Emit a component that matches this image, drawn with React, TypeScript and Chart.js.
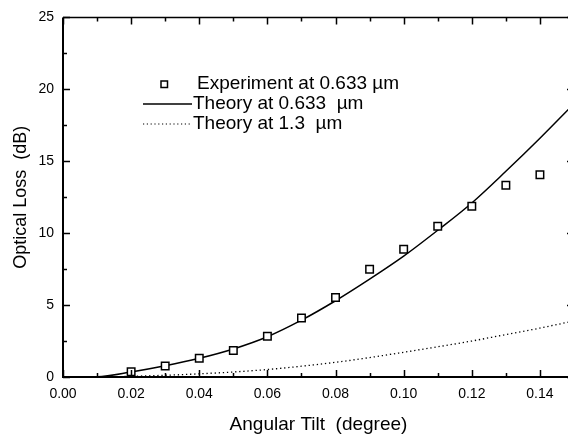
import React, { useEffect, useRef } from "react";
import { Chart, registerables } from "chart.js";

Chart.register(...registerables);

const expX = [0.02, 0.03, 0.04, 0.05, 0.06, 0.07, 0.08, 0.09, 0.1, 0.11, 0.12, 0.13, 0.14];
const expY = [0.36, 0.77, 1.3, 1.85, 2.83, 4.1, 5.53, 7.49, 8.88, 10.48, 11.87, 13.33, 14.06];

const theoryX = [0, 0.01, 0.02, 0.03, 0.04, 0.05, 0.06, 0.07, 0.08, 0.09, 0.1, 0.11, 0.12, 0.13, 0.14, 0.15];
const theory633 = [0, 0.02, 0.35, 0.78, 1.3, 1.95, 2.8, 3.95, 5.3, 6.8, 8.4, 10.2, 12.1, 14.3, 16.6, 19.0];
const theory13 = [0, 0, 0.05, 0.12, 0.22, 0.35, 0.52, 0.75, 1.02, 1.35, 1.72, 2.1, 2.5, 2.95, 3.4, 3.9];

const xTicks = [0, 0.02, 0.04, 0.06, 0.08, 0.1, 0.12, 0.14];
const yTicks = [0, 5, 10, 15, 20, 25];

const legendLabels = ["Experiment at 0.633 \u00b5m", "Theory at 0.633  \u00b5m", "Theory at 1.3  \u00b5m"];

const FONT = "'Liberation Sans', Arial, Helvetica, sans-serif";

const framePlugin = {
  id: "frame",
  afterDraw(chart: any) {
    const ctx = chart.ctx;
    const { left, right, top, bottom } = chart.chartArea;
    const xs = chart.scales.x;
    const ys = chart.scales.y;
    ctx.save();
    ctx.strokeStyle = "#000";
    ctx.lineWidth = 2;
    ctx.beginPath();
    ctx.moveTo(left, top);
    ctx.lineTo(left, bottom);
    ctx.lineTo(right, bottom);
    ctx.stroke();
    ctx.lineWidth = 1.5;
    ctx.beginPath();
    ctx.moveTo(left, top);
    ctx.lineTo(right, top);
    ctx.lineTo(right, bottom);
    ctx.stroke();
    ctx.lineWidth = 1.5;
    for (let i = 0; i <= 15; i++) {
      const v = i * 0.01;
      const px = Math.round(xs.getPixelForValue(v)) + 0.5;
      const len = i % 2 === 0 ? 7 : 4;
      ctx.beginPath();
      ctx.moveTo(px, bottom);
      ctx.lineTo(px, bottom - len);
      ctx.moveTo(px, top);
      ctx.lineTo(px, top + len);
      ctx.stroke();
    }
    for (let i = 0; i <= 10; i++) {
      const v = i * 2.5;
      const py = Math.round(ys.getPixelForValue(v)) + 0.5;
      const len = i % 2 === 0 ? 7 : 4;
      ctx.beginPath();
      ctx.moveTo(left, py);
      ctx.lineTo(left + len, py);
      ctx.moveTo(right, py);
      ctx.lineTo(right - len, py);
      ctx.stroke();
    }
    ctx.fillStyle = "#000";
    ctx.font = `19px ${FONT}`;
    ctx.textBaseline = "middle";
    ctx.textAlign = "left";
    const rows = [84, 104, 124];
    ctx.lineWidth = 1.5;
    ctx.strokeRect(161, rows[0] - 3, 6.5, 6.5);
    ctx.fillText(legendLabels[0], 197, rows[0]);
    ctx.beginPath();
    ctx.lineWidth = 1.5;
    ctx.moveTo(143, rows[1]);
    ctx.lineTo(192, rows[1]);
    ctx.stroke();
    ctx.fillText(legendLabels[1], 193, rows[1]);
    ctx.beginPath();
    ctx.lineWidth = 1.2;
    ctx.setLineDash([1.2, 2.6]);
    ctx.moveTo(143, rows[2]);
    ctx.lineTo(192, rows[2]);
    ctx.stroke();
    ctx.setLineDash([]);
    ctx.fillText(legendLabels[2], 193, rows[2]);
    ctx.restore();
  },
};

export default function App() {
  const ref = useRef<HTMLCanvasElement | null>(null);
  useEffect(() => {
    if (!ref.current) return;
    const chart = new Chart(ref.current, {
      type: "scatter",
      data: {
        datasets: [
          {
            label: legendLabels[0],
            data: expX.map((x, i) => ({ x, y: expY[i] })),
            showLine: false,
            pointStyle: "rect",
            pointRadius: 5.3,
            pointBorderWidth: 1.5,
            pointBackgroundColor: "#fff",
            pointBorderColor: "#000",
            order: 0,
          },
          {
            label: legendLabels[1],
            data: theoryX.map((x, i) => ({ x, y: theory633[i] })),
            showLine: true,
            borderColor: "#000",
            borderWidth: 1.5,
            pointRadius: 0,
            cubicInterpolationMode: "monotone",
            order: 1,
          },
          {
            label: legendLabels[2],
            data: theoryX.map((x, i) => ({ x, y: theory13[i] })),
            showLine: true,
            borderColor: "#000",
            borderWidth: 1.3,
            borderDash: [1.3, 2.8],
            pointRadius: 0,
            cubicInterpolationMode: "monotone",
            order: 2,
          },
        ],
      },
      options: {
        animation: false,
        responsive: false,
        maintainAspectRatio: false,
        layout: { padding: { top: 12, right: 26, left: 0, bottom: 0 } },
        plugins: { legend: { display: false }, tooltip: { enabled: false } },
        scales: {
          x: {
            type: "linear",
            min: 0,
            max: 0.15,
            grid: { display: false, drawTicks: false },
            border: { display: false },
            afterBuildTicks: (s: any) => {
              s.ticks = xTicks.map((v) => ({ value: v }));
            },
            afterFit: (s: any) => {
              s.height = 57;
            },
            ticks: {
              color: "#000",
              font: { family: FONT, size: 14 },
              padding: 9,
              maxRotation: 0,
              autoSkip: false,
              callback: (v: any) => Number(v).toFixed(2),
            },
            title: {
              display: true,
              text: "Angular Tilt  (degree)",
              color: "#000",
              font: { family: FONT, size: 19 },
              padding: { top: 0, bottom: -2 },
            },
          },
          y: {
            type: "linear",
            min: 0,
            max: 25,
            grid: { display: false, drawTicks: false },
            border: { display: false },
            afterBuildTicks: (s: any) => {
              s.ticks = yTicks.map((v) => ({ value: v }));
            },
            afterFit: (s: any) => {
              s.width = 63;
            },
            ticks: {
              color: "#000",
              font: { family: FONT, size: 14 },
              padding: 9,
              autoSkip: false,
            },
            title: {
              display: true,
              text: "Optical Loss  (dB)",
              color: "#000",
              font: { family: FONT, size: 18 },
              padding: { top: 10, bottom: 0 },
            },
          },
        },
      },
      plugins: [framePlugin],
    });
    return () => chart.destroy();
  }, []);
  return (
    <div
      style={{
        position: "fixed",
        left: 0,
        top: 0,
        width: 568,
        height: 434,
        overflow: "hidden",
        background: "#fff",
      }}
    >
      <canvas ref={ref} width={600} height={434} style={{ display: "block" }} />
    </div>
  );
}
